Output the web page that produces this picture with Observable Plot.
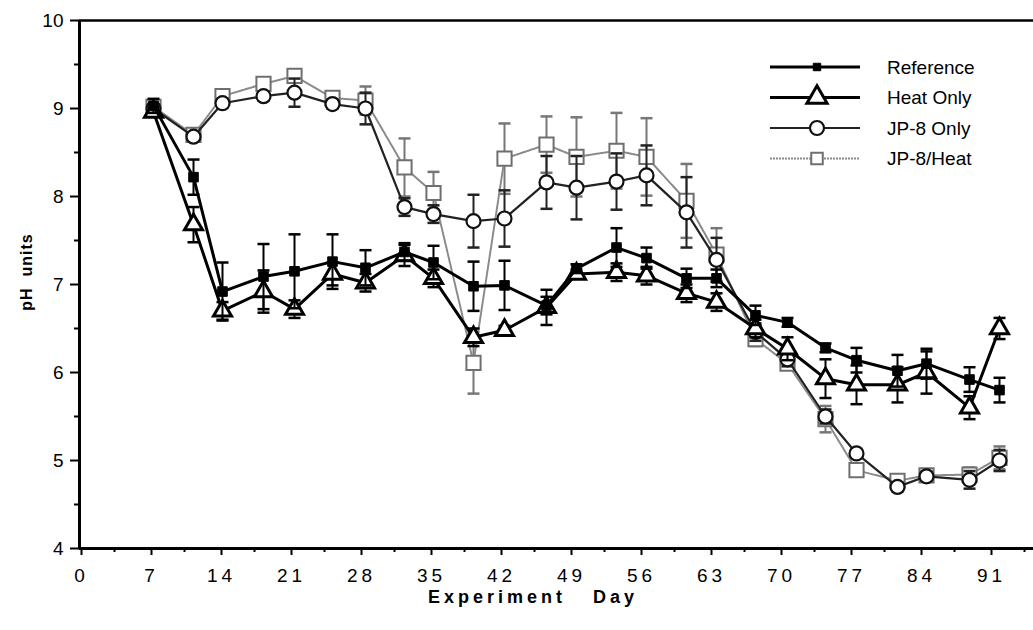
<!DOCTYPE html>
<html>
<head>
<meta charset="utf-8">
<script src="https://cdn.jsdelivr.net/npm/d3@7"></script>
<script src="https://cdn.jsdelivr.net/npm/@observablehq/plot@0.6"></script>
<style>
  body { margin: 0; background: #fff; }
  #wrap { position: relative; width: 1033px; height: 630px; font-family: "Liberation Sans", Arial, sans-serif; }
  #wrap svg text { font-family: "Liberation Sans", Arial, sans-serif; }
  .ttl { position: absolute; font-weight: bold; font-size: 18px; color: #000; white-space: pre; }
</style>
</head>
<body>
<div id="wrap"></div>
<script>
// ---- data ----
const days = [7.4, 11.4, 14.3, 18.4, 21.5, 25.3, 28.6, 32.5, 35.4, 39.4, 42.5, 46.7, 49.7, 53.7, 56.7, 60.7, 63.7, 67.6, 70.8, 74.6, 77.7, 81.8, 84.7, 89, 92];

const seriesNames = ["Reference", "Heat Only", "JP-8 Only", "JP-8/Heat"];

const refPH   = [9.03, 8.22, 6.92, 7.09, 7.15, 7.26, 7.19, 7.37, 7.25, 6.98, 6.99, 6.76, 7.18, 7.42, 7.30, 7.07, 7.07, 6.65, 6.57, 6.28, 6.14, 6.02, 6.10, 5.92, 5.80];
const refErr  = [0.08, 0.20, 0.33, 0.37, 0.42, 0.31, 0.20, 0.10, 0.19, 0.28, 0.28, 0.10, 0.05, 0.22, 0.12, 0.11, 0.10, 0.11, 0.05, 0.05, 0.14, 0.18, 0.17, 0.14, 0.14];

const heatPH  = [8.96, 7.68, 6.70, 6.92, 6.72, 7.12, 7.02, 7.33, 7.07, 6.40, 6.48, 6.74, 7.12, 7.14, 7.10, 6.90, 6.80, 6.50, 6.27, 5.93, 5.86, 5.86, 6.00, 5.60, 6.50];
const heatErr = [0.05, 0.20, 0.10, 0.24, 0.10, 0.13, 0.10, 0.12, 0.10, 0.10, 0.05, 0.20, 0.05, 0.10, 0.10, 0.10, 0.10, 0.10, 0.13, 0.22, 0.22, 0.20, 0.24, 0.13, 0.12];

const jpPH    = [9.00, 8.68, 9.06, 9.14, 9.18, 9.05, 9.00, 7.88, 7.80, 7.72, 7.75, 8.16, 8.10, 8.17, 8.24, 7.82, 7.28, 6.46, 6.15, 5.50, 5.08, 4.70, 4.82, 4.78, 5.00];
const jpErr   = [0.05, 0.03, 0.05, 0.05, 0.16, 0.05, 0.18, 0.10, 0.10, 0.30, 0.32, 0.30, 0.36, 0.32, 0.34, 0.40, 0.25, 0.10, 0.08, 0.08, 0.05, 0.05, 0.05, 0.10, 0.12];

const jphPH   = [9.02, 8.70, 9.14, 9.28, 9.37, 9.12, 9.09, 8.33, 8.04, 6.11, 8.43, 8.59, 8.45, 8.52, 8.45, 7.95, 7.34, 6.38, 6.10, 5.47, 4.89, 4.77, 4.83, 4.84, 5.03];
const jphErr  = [0.06, 0.04, 0.05, 0.05, 0.05, 0.05, 0.16, 0.33, 0.24, 0.35, 0.40, 0.32, 0.45, 0.43, 0.44, 0.42, 0.30, 0.08, 0.06, 0.15, 0.06, 0.05, 0.05, 0.08, 0.13];

const xTickLabels = [0, 7, 14, 21, 28, 35, 42, 49, 56, 63, 70, 77, 84, 91];
const yTickLabels = [4, 5, 6, 7, 8, 9, 10];

// ---- styles per series ----
const styles = {
  "Reference": {stroke: "#000", sw: 3, symbol: "square", r: 5.4, fill: "#000", mstroke: "#000", msw: 1, err: "#000"},
  "Heat Only": {stroke: "#000", sw: 3, symbol: "triangle", r: 6.7, fill: "#fff", mstroke: "#000", msw: 3, err: "#000"},
  "JP-8 Only": {stroke: "#222", sw: 2.2, symbol: "circle", r: 7, fill: "#fff", mstroke: "#111", msw: 2.2, err: "#222"},
  "JP-8/Heat": {stroke: "#8a8a8a", sw: 2, symbol: "square", r: 8, fill: "#fff", mstroke: "#6f6f6f", msw: 2, err: "#777", dash: "2,1"}
};

const valueArrays = [refPH, heatPH, jpPH, jphPH];
const errArrays = [refErr, heatErr, jpErr, jphErr];
const rows = seriesNames.map((name, i) => days.map((d, j) => ({
  name, day: d, ph: valueArrays[i][j], err: errArrays[i][j]
})));

const cap = {draw(ctx) { ctx.moveTo(-6, 0); ctx.lineTo(6, 0); }};

const drawOrder = [3, 2, 1, 0];
const seriesMarks = [];
for (const i of drawOrder) {
  const data = rows[i];
  const s = styles[seriesNames[i]];
  seriesMarks.push(
    Plot.ruleX(data, {x: "day", y1: d => d.ph - d.err, y2: d => d.ph + d.err, stroke: s.err, strokeWidth: 2}),
    Plot.dot(data, {x: "day", y: d => d.ph + d.err, symbol: cap, stroke: s.err, strokeWidth: 2.5}),
    Plot.dot(data, {x: "day", y: d => d.ph - d.err, symbol: cap, stroke: s.err, strokeWidth: 2.5}),
    Plot.line(data, {x: "day", y: "ph", stroke: s.stroke, strokeWidth: s.sw, strokeDasharray: s.dash}),
    Plot.dot(data, {x: "day", y: "ph", symbol: s.symbol, r: s.r, fill: s.fill, stroke: s.mstroke, strokeWidth: s.msw})
  );
}

const minorX = d3.range(3.5, 95, 7);
const minorY = d3.range(4.5, 10, 1);

const chart = Plot.plot({
  width: 1033,
  height: 630,
  marginLeft: 79,
  marginRight: 0,
  marginTop: 20,
  marginBottom: 82,
  style: {fontFamily: "Liberation Sans, Arial, sans-serif", fontSize: "19px", color: "#000", background: "#fff"},
  x: {domain: [0, 95.4]},
  y: {domain: [4, 10]},
  marks: [
    Plot.axisX({ticks: xTickLabels, tickSize: 7, tickPadding: 13, strokeWidth: 2, label: null, tickFormat: d => String(d), fontSize: 19, dx: 2}),
    Plot.axisX({ticks: minorX, tickSize: 4, strokeWidth: 2, label: null, tickFormat: () => ""}),
    Plot.axisY({ticks: yTickLabels, tickSize: 9, tickPadding: 7, strokeWidth: 2, label: null, tickFormat: d => String(d), fontSize: 19}),
    Plot.axisY({ticks: minorY, tickSize: 5, strokeWidth: 2, label: null, tickFormat: () => ""}),
    Plot.ruleY([4], {stroke: "#000", strokeWidth: 3}),
    Plot.ruleY([10], {stroke: "#000", strokeWidth: 2.5}),
    Plot.ruleX([0], {stroke: "#000", strokeWidth: 3}),
    ...seriesMarks
  ]
});

// enlarge all tick labels; space out the digits of the x tick labels
d3.select(chart).selectAll("text").each(function () {
  const t = d3.select(this);
  t.style("font-size", "19px");
  const anchor = this.closest("[text-anchor]");
  const isY = anchor && anchor.getAttribute("text-anchor") === "end";
  if (!isY) t.style("letter-spacing", "4px");
});

const wrap = document.getElementById("wrap");
wrap.appendChild(chart);

// axis titles
const xt = document.createElement("div");
xt.className = "ttl";
xt.textContent = "Experiment   Day";
xt.style.letterSpacing = "4px";
xt.style.left = "0px";
xt.style.width = "1066px";
xt.style.textAlign = "center";
xt.style.top = "587px";
wrap.appendChild(xt);

const yt = document.createElement("div");
yt.className = "ttl";
yt.textContent = "pH  units";
yt.style.fontSize = "16px";
yt.style.left = "27px";
yt.style.top = "272px";
yt.style.transform = "translate(-50%, -50%) rotate(-90deg)";
yt.style.letterSpacing = "1px";
wrap.appendChild(yt);

// legend
const leg = d3.select(wrap).append("svg")
  .attr("width", 273).attr("height", 150)
  .style("position", "absolute").style("left", "760px").style("top", "40px");
seriesNames.forEach((name, i) => {
  const s = styles[name];
  const y = 27 + i * 30.5;
  leg.append("line").attr("x1", 10).attr("x2", 100).attr("y1", y).attr("y2", y)
    .attr("stroke", s.stroke).attr("stroke-width", s.sw).attr("stroke-dasharray", s.dash || null);
  const sym = {square: d3.symbolSquare, triangle: d3.symbolTriangle, circle: d3.symbolCircle}[s.symbol];
  const rr = name === "Reference" ? 4.2 : name === "Heat Only" ? 7.5 : name === "JP-8/Heat" ? 6.5 : s.r;
  leg.append("path").attr("d", d3.symbol(sym, Math.PI * rr * rr)()).attr("transform", `translate(57,${y})`)
    .attr("fill", s.fill).attr("stroke", s.mstroke).attr("stroke-width", s.msw);
  leg.append("text").attr("x", 127).attr("y", y).attr("dy", "0.35em")
    .attr("font-size", 19).attr("font-family", "Liberation Sans, Arial, sans-serif").text(name);
});
</script>
</body>
</html>
